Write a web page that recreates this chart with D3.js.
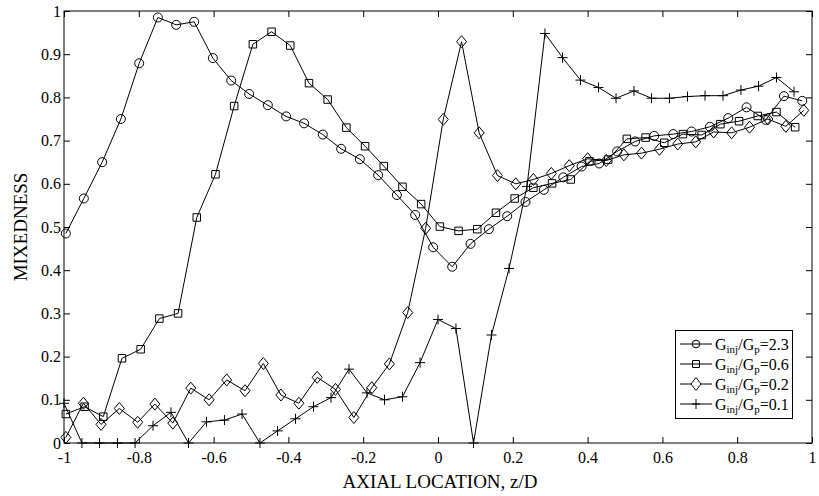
<!DOCTYPE html>
<html>
<head>
<meta charset="utf-8">
<script src="https://cdn.jsdelivr.net/npm/d3@7"></script>
<style>
  html, body { margin: 0; padding: 0; background: #fff; }
  svg { display: block; }
  text { font-family: "Liberation Serif", "Times New Roman", serif; fill: #000; }
</style>
</head>
<body>
<svg id="chart" width="819" height="496"></svg>
<script>
// ---------- data ----------
const seriesLabels = ["2.3", "0.6", "0.2", "0.1"];

const zCircle = [-0.995,-0.947,-0.898,-0.848,-0.799,-0.749,-0.700,-0.652,-0.602,-0.553,-0.505,-0.455,-0.406,-0.358,-0.308,-0.259,-0.209,-0.160,-0.110,-0.061,-0.013,0.038,0.087,0.136,0.185,0.234,0.283,0.335,0.384,0.431,0.479,0.527,0.578,0.629,0.678,0.727,0.776,0.825,0.876,0.925,0.974];
const mCircle = [0.485,0.566,0.650,0.750,0.879,0.985,0.968,0.975,0.891,0.839,0.808,0.782,0.756,0.740,0.714,0.681,0.657,0.620,0.574,0.528,0.453,0.408,0.461,0.495,0.525,0.558,0.586,0.615,0.640,0.647,0.675,0.698,0.711,0.715,0.721,0.732,0.752,0.777,0.748,0.803,0.792];

const zSquare = [-0.995,-0.945,-0.895,-0.845,-0.795,-0.745,-0.695,-0.645,-0.595,-0.545,-0.495,-0.445,-0.395,-0.345,-0.295,-0.245,-0.195,-0.145,-0.095,-0.045,0.005,0.055,0.105,0.155,0.205,0.255,0.305,0.355,0.405,0.455,0.505,0.555,0.605,0.655,0.705,0.755,0.805,0.855,0.905,0.955];
const mSquare = [0.067,0.084,0.061,0.196,0.217,0.288,0.300,0.522,0.622,0.780,0.923,0.952,0.920,0.833,0.795,0.730,0.687,0.641,0.593,0.553,0.501,0.491,0.495,0.533,0.566,0.591,0.601,0.610,0.652,0.656,0.704,0.707,0.695,0.715,0.713,0.738,0.745,0.757,0.766,0.731];

const zDiamond = [-0.995,-0.948,-0.901,-0.852,-0.803,-0.757,-0.709,-0.661,-0.612,-0.565,-0.516,-0.467,-0.420,-0.372,-0.323,-0.274,-0.225,-0.177,-0.130,-0.081,-0.033,0.014,0.063,0.110,0.159,0.208,0.255,0.303,0.351,0.400,0.450,0.497,0.544,0.592,0.641,0.689,0.737,0.785,0.833,0.882,0.930,0.978];
const mDiamond = [0.013,0.092,0.043,0.080,0.048,0.090,0.046,0.127,0.100,0.146,0.121,0.184,0.111,0.092,0.152,0.124,0.059,0.128,0.183,0.302,0.497,0.749,0.929,0.718,0.619,0.600,0.610,0.624,0.642,0.658,0.654,0.667,0.671,0.680,0.692,0.697,0.720,0.718,0.731,0.750,0.733,0.770];

const zPlus = [-1.000,-0.952,-0.905,-0.857,-0.810,-0.762,-0.714,-0.667,-0.619,-0.571,-0.524,-0.476,-0.429,-0.381,-0.333,-0.286,-0.238,-0.190,-0.143,-0.095,-0.048,0.000,0.048,0.095,0.143,0.190,0.238,0.286,0.333,0.381,0.429,0.476,0.524,0.571,0.619,0.667,0.714,0.762,0.810,0.857,0.905,0.952];
const mPlus = [0.092,0,0,0,0,0.040,0.071,0,0.049,0.053,0.067,0,0.028,0.056,0.084,0.105,0.171,0.116,0.100,0.107,0.186,0.286,0.265,0,0.250,0.404,0.594,0.948,0.892,0.840,0.823,0.798,0.815,0.798,0.798,0.802,0.804,0.804,0.817,0.826,0.846,0.813];

const xTickValues = [-1,-0.8,-0.6,-0.4,-0.2,0,0.2,0.4,0.6,0.8,1];
const xTickLabels = ["-1","-0.8","-0.6","-0.4","-0.2","0","0.2","0.4","0.6","0.8","1"];
const yTickValues = [0,0.1,0.2,0.3,0.4,0.5,0.6,0.7,0.8,0.9,1];
const yTickLabels = ["0","0.1","0.2","0.3","0.4","0.5","0.6","0.7","0.8","0.9","1"];

const xTitle = "AXIAL LOCATION, z/D";
const yTitle = "MIXEDNESS";

// ---------- layout ----------
const svg = d3.select("#chart");
const x = d3.scaleLinear().domain([-1, 1]).range([64, 812]);
const y = d3.scaleLinear().domain([0, 1]).range([443, 11]);

const axes = svg.append("g");
function styleAxis(g) {
  g.select(".domain").remove();
  g.selectAll(".tick line").attr("stroke", "#000").attr("stroke-width", 1);
  g.selectAll(".tick text").attr("font-size", 16).attr("font-family", '"Liberation Serif", "Times New Roman", serif').attr("fill", "#000");
}
axes.append("g").attr("transform", `translate(0,${y(0)})`)
  .call(d3.axisBottom(x).tickValues(xTickValues).tickFormat((d, i) => xTickLabels[i]).tickSize(-6).tickSizeOuter(0).tickPadding(9))
  .call(styleAxis);
axes.append("g").attr("transform", `translate(0,${y(1)})`)
  .call(d3.axisTop(x).tickValues(xTickValues).tickFormat("").tickSize(-6).tickSizeOuter(0))
  .call(styleAxis);
axes.append("g").attr("transform", `translate(${x(-1)},0)`)
  .call(d3.axisLeft(y).tickValues(yTickValues).tickFormat((d, i) => yTickLabels[i]).tickSize(-6).tickSizeOuter(0).tickPadding(3))
  .call(styleAxis);
axes.append("g").attr("transform", `translate(${x(1)},0)`)
  .call(d3.axisRight(y).tickValues(yTickValues).tickFormat("").tickSize(-6).tickSizeOuter(0))
  .call(styleAxis);

svg.append("rect")
  .attr("x", x(-1)).attr("y", y(1))
  .attr("width", x(1) - x(-1)).attr("height", y(0) - y(1))
  .attr("fill", "none").attr("stroke", "#000").attr("stroke-width", 1);

// titles
svg.append("text").attr("x", (x(-1) + x(1)) / 2 + 2).attr("y", 488)
  .attr("text-anchor", "middle").attr("font-size", 19).text(xTitle);
svg.append("text").attr("transform", `translate(27,${(y(0) + y(1)) / 2}) rotate(-90)`)
  .attr("text-anchor", "middle").attr("font-size", 19).text(yTitle);

// ---------- markers ----------
const markerPath = {
  circle: r => d3.symbol().type(d3.symbolCircle).size(Math.PI * r * r)(),
  square: s => `M${-s/2},${-s/2}H${s/2}V${s/2}H${-s/2}Z`,
  diamond: (w, h) => `M0,${-h}L${w},0L0,${h}L${-w},0Z`,
  plus: (w, h) => `M${-w},0H${w}M0,${-h}V${h}`
};

const series = [
  { label: seriesLabels[0], z: zCircle, m: mCircle, shape: () => markerPath.circle(4.5), lshape: () => markerPath.circle(3.8), fill: "none" },
  { label: seriesLabels[1], z: zSquare, m: mSquare, shape: () => markerPath.square(7.5), lshape: () => markerPath.square(7), fill: "none" },
  { label: seriesLabels[2], z: zDiamond, m: mDiamond, shape: () => markerPath.diamond(5, 6), lshape: () => markerPath.diamond(5, 6.5), fill: "none", lfill: "#fff" },
  { label: seriesLabels[3], z: zPlus, m: mPlus, shape: () => markerPath.plus(5, 5), lshape: () => markerPath.plus(4.5, 5), fill: "none" }
];

const line = d3.line().x(d => x(d[0])).y(d => y(d[1]));
const plot = svg.append("g");
series.forEach(s => {
  const pts = s.z.map((v, i) => [v, s.m[i]]);
  plot.append("path").attr("d", line(pts)).attr("fill", "none").attr("stroke", "#000").attr("stroke-width", 1);
  plot.append("g").selectAll("path").data(pts).join("path")
    .attr("transform", d => `translate(${x(d[0])},${y(d[1])})`)
    .attr("d", s.shape())
    .attr("fill", s.fill).attr("stroke", "#000").attr("stroke-width", 1);
});

// ---------- legend ----------
const lg = svg.append("g");
lg.append("rect").attr("x", 675.5).attr("y", 330.5).attr("width", 117).attr("height", 88)
  .attr("fill", "#fff").attr("stroke", "#000").attr("stroke-width", 1);
series.forEach((s, i) => {
  const ry = 344 + i * 20;
  lg.append("line").attr("x1", 680).attr("x2", 712).attr("y1", ry).attr("y2", ry).attr("stroke", "#000").attr("stroke-width", 1);
  lg.append("path").attr("transform", `translate(696,${ry})`).attr("d", s.lshape())
    .attr("fill", s.lfill || "none").attr("stroke", "#000").attr("stroke-width", 1);
  const t = lg.append("text").attr("x", 715).attr("y", ry + 5.5).attr("font-size", 16);
  t.append("tspan").text("G");
  t.append("tspan").attr("font-size", 11).attr("dy", 3).text("inj");
  t.append("tspan").attr("dy", -3).text("/G");
  t.append("tspan").attr("font-size", 11).attr("dy", 3).text("p");
  t.append("tspan").attr("dy", -3).text("=" + s.label);
});
</script>
</body>
</html>
